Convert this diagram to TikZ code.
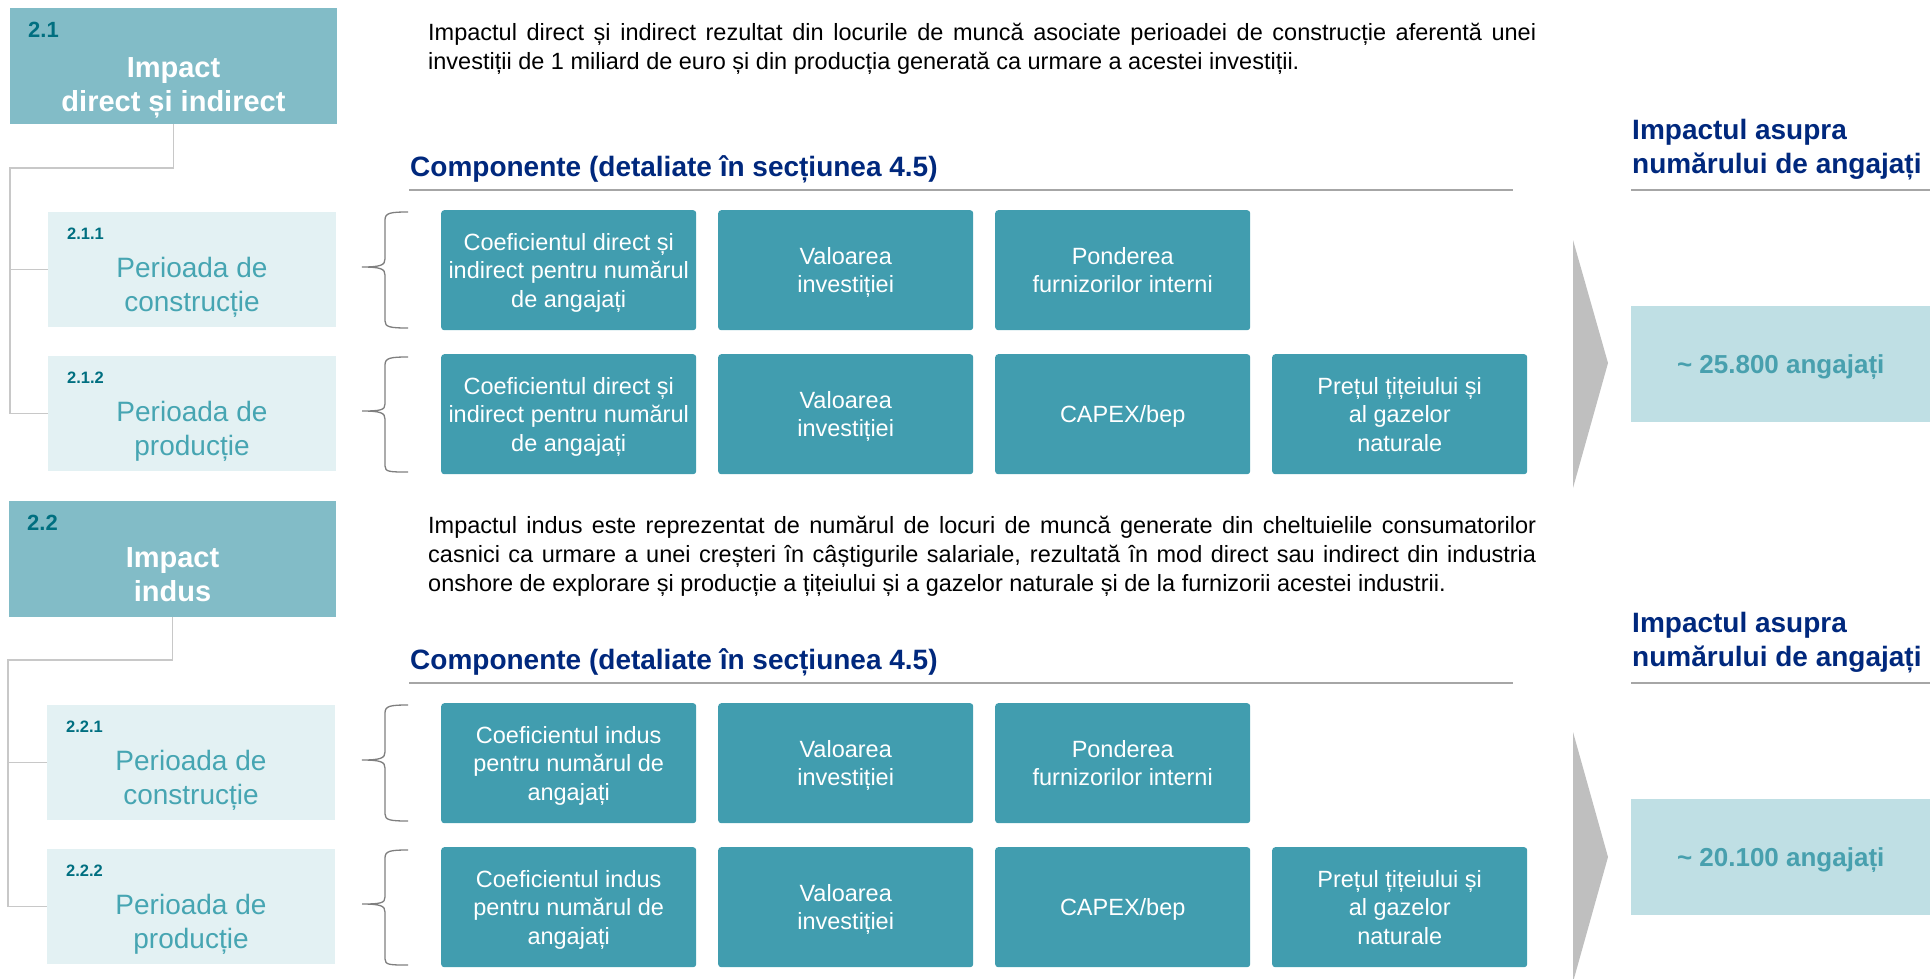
\documentclass[tikz,border=0pt]{standalone}
\usepackage{fontspec}
\setmainfont{Liberation Sans}
\definecolor{secfill}{HTML}{82BCC7}
\definecolor{subfill}{HTML}{E3F1F3}
\definecolor{compfill}{HTML}{419DAF}
\definecolor{resfill}{HTML}{BFDFE4}
\definecolor{restext}{HTML}{48A0AE}
\definecolor{navy}{HTML}{00287D}
\definecolor{lbldark}{HTML}{006F80}
\definecolor{subtext}{HTML}{46A5B2}
\definecolor{conngray}{HTML}{C8C8C8}
\definecolor{bracegray}{HTML}{7F7F7F}
\definecolor{ulgray}{HTML}{A6A6A6}
\definecolor{arrowgray}{HTML}{BFBFBF}
\begin{document}
\begin{tikzpicture}[x=1pt,y=-1pt,
  secbox/.style={fill=secfill, minimum width=327pt, minimum height=116pt, inner sep=0pt, anchor=north west},
  subbox/.style={fill=subfill, minimum width=288pt, minimum height=115pt, inner sep=0pt, anchor=north west},
  sectitle/.style={text=white, align=center, inner sep=0pt, text depth=0pt, font=\fontsize{29}{34}\selectfont\bfseries},
  subtitle/.style={text=subtext, align=center, inner sep=0pt, font=\fontsize{28}{34}\selectfont},
  seclbl/.style={text=lbldark, anchor=base west, inner sep=0pt, font=\fontsize{22}{26}\selectfont\bfseries},
  sublbl/.style={text=lbldark, anchor=base west, inner sep=0pt, font=\fontsize{16.5}{20}\selectfont\bfseries},
  comp/.style={fill=compfill, rounded corners=3pt, minimum width=255pt, minimum height=120pt, inner sep=0pt, anchor=north west, text=white, align=center, text depth=0pt, font=\fontsize{23.5}{28.5}\selectfont},
  res/.style={fill=resfill, minimum width=299pt, minimum height=116pt, inner sep=0pt, anchor=north west, text=restext, text height=19pt, text depth=0pt, font=\fontsize{26}{30}\selectfont\bfseries},
  heading/.style={text=navy, anchor=base west, inner sep=0pt, font=\fontsize{28}{34}\selectfont\bfseries},
  para/.style={anchor=base west, inner sep=0pt, font=\fontsize{23.5}{29}\selectfont},
  conn/.style={draw=conngray, line width=1.5pt},
  brace/.style={draw=bracegray, line width=1.3pt},
  uline/.style={draw=ulgray, line width=2pt},
  chevron/.style={fill=arrowgray}
]
\useasboundingbox (0,0) rectangle (1930,978);

% ================= Part 2.1 =================
\node[secbox] (s21) at (10,8) {};
\node[seclbl] (l21) at (28,37) {2.1};
\node[sectitle] (t21) at (173.5,85) {Impact\\direct și indirect};

\node[subbox] (s211) at (48,212) {};
\node[sublbl] (l211) at (67,239) {2.1.1};
\node[subtitle] (t211) at (192,287) {Perioada de\\construcție};

\node[subbox] (s212) at (48,356) {};
\node[sublbl] (l212) at (67,383) {2.1.2};
\node[subtitle] (t212) at (192,431) {Perioada de\\producție};

\coordinate (j21) at (10,168);
\draw[conn] (s21.south) |- (j21) |- (s212.west);
\draw[conn] (j21) |- (s211.west);

\node[para] (p21) at (428,40) {\parbox[t]{1108pt}{\fontsize{23.5}{29}\selectfont
  \hbox to 1108pt{Impactul direct și indirect rezultat din locurile de muncă asociate perioadei de construcție aferentă unei}
  \hbox{investiții de 1 miliard de euro și din producția generată ca urmare a acestei investiții.}}};

\node[heading] (h21) at (410,176) {Componente (detaliate în secțiunea 4.5)};
\draw[uline] (409,190) -- (1513,190);

\node[heading] (i21) at (1632,139) {\parbox[t]{298pt}{\raggedright Impactul asupra\\numărului de angajați}};
\draw[uline] (1631,190) -- (1930,190);

\draw[brace] (408,212) .. controls (390,212) and (385,213) .. (385,220) -- (385,259) .. controls (385,265) and (381,267) .. (362,267)
             .. controls (381,267) and (385,269) .. (385,275) -- (385,321) .. controls (385,327) and (390,328) .. (408,328);
\draw[brace] (408,357) .. controls (390,357) and (385,358) .. (385,365) -- (385,404) .. controls (385,410) and (381,411) .. (362,411)
             .. controls (381,411) and (385,413) .. (385,419) -- (385,466) .. controls (385,472) and (390,472) .. (408,472);

\node[comp] (c11) at (441,210) {Coeficientul direct și\\indirect pentru numărul\\de angajați};
\node[comp] (c12) at (718,210) {Valoarea\\investiției};
\node[comp] (c13) at (995,210) {Ponderea\\furnizorilor interni};

\node[comp] (c21) at (441,354) {Coeficientul direct și\\indirect pentru numărul\\de angajați};
\node[comp] (c22) at (718,354) {Valoarea\\investiției};
\node[comp] (c23) at (995,354) {CAPEX/bep};
\node[comp] (c24) at (1272,354) {Prețul țițeiului și\\al gazelor\\naturale};

\fill[chevron] (1573,240) -- (1608,363) -- (1573,488) -- cycle;
\node[res] (r21) at (1631,306) {\textasciitilde{} 25.800 angajați};

% ================= Part 2.2 =================
\node[secbox] (s22) at (9,501) {};
\node[seclbl] (l22) at (27,530) {2.2};
\node[sectitle] (t22) at (172.5,575) {Impact\\indus};

\node[subbox] (s221) at (47,705) {};
\node[sublbl] (l221) at (66,732) {2.2.1};
\node[subtitle] (t221) at (191,780) {Perioada de\\construcție};

\node[subbox] (s222) at (47,849) {};
\node[sublbl] (l222) at (66,876) {2.2.2};
\node[subtitle] (t222) at (191,924) {Perioada de\\producție};

\coordinate (j22) at (8,660);
\draw[conn] (s22.south) |- (j22) |- (s222.west);
\draw[conn] (j22) |- (s221.west);

\node[para] (p22) at (428,533) {\parbox[t]{1108pt}{\fontsize{23.5}{29}\selectfont
  \hbox to 1108pt{Impactul indus este reprezentat de numărul de locuri de muncă generate din cheltuielile consumatorilor}
  \hbox to 1108pt{casnici ca urmare a unei creșteri în câștigurile salariale, rezultată în mod direct sau indirect din industria}
  \hbox{onshore de explorare și producție a țițeiului și a gazelor naturale și de la furnizorii acestei industrii.}}};

\node[heading] (h22) at (410,669) {Componente (detaliate în secțiunea 4.5)};
\draw[uline] (409,683) -- (1513,683);

\node[heading] (i22) at (1632,632) {\parbox[t]{298pt}{\raggedright Impactul asupra\\numărului de angajați}};
\draw[uline] (1631,683) -- (1930,683);

\draw[brace] (408,705) .. controls (390,705) and (385,706) .. (385,713) -- (385,752) .. controls (385,758) and (381,760) .. (362,760)
             .. controls (381,760) and (385,762) .. (385,768) -- (385,814) .. controls (385,820) and (390,821) .. (408,821);
\draw[brace] (408,850) .. controls (390,850) and (385,851) .. (385,858) -- (385,897) .. controls (385,903) and (381,904) .. (362,904)
             .. controls (381,904) and (385,906) .. (385,912) -- (385,959) .. controls (385,965) and (390,965) .. (408,965);

\node[comp] (c31) at (441,703) {Coeficientul indus\\pentru numărul de\\angajați};
\node[comp] (c32) at (718,703) {Valoarea\\investiției};
\node[comp] (c33) at (995,703) {Ponderea\\furnizorilor interni};

\node[comp] (c41) at (441,847) {Coeficientul indus\\pentru numărul de\\angajați};
\node[comp] (c42) at (718,847) {Valoarea\\investiției};
\node[comp] (c43) at (995,847) {CAPEX/bep};
\node[comp] (c44) at (1272,847) {Prețul țițeiului și\\al gazelor\\naturale};

\fill[chevron] (1573,732) -- (1608,857) -- (1573,982) -- cycle;
\node[res] (r22) at (1631,799) {\textasciitilde{} 20.100 angajați};
\end{tikzpicture}
\end{document}
